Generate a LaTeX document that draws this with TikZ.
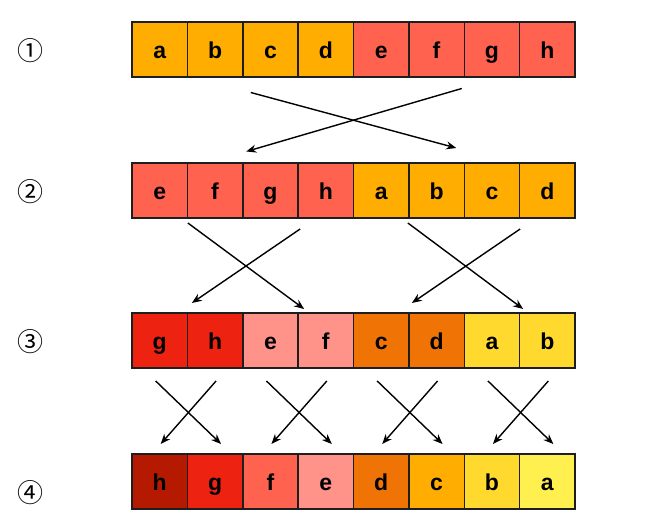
\documentclass[tikz,border=0pt]{standalone}
\usepackage{fontspec}
\setmainfont{Liberation Sans}
\newfontfamily\circfont{Noto Sans CJK JP}
\usetikzlibrary{arrows.meta,calc}

% palette
\definecolor{cOrange}{HTML}{FFAD00}
\definecolor{cSalmon}{HTML}{FF6350}
\definecolor{cRed}{HTML}{EE2210}
\definecolor{cPink}{HTML}{FF938A}
\definecolor{cDarkOr}{HTML}{F07305}
\definecolor{cYellow}{HTML}{FFD92E}
\definecolor{cLemon}{HTML}{FFF04F}
\definecolor{cMaroon}{HTML}{B51A00}
\definecolor{cEdge}{HTML}{1E1E1E}

\begin{document}
\begin{tikzpicture}[x=1pt,y=-1pt,
  cell/.style={draw=cEdge, line width=1.5pt, minimum width=55.375pt,
    minimum height=55pt, inner sep=0pt, outer sep=0pt, anchor=north west,
    text height=20pt, text depth=2.4pt,
    font=\fontsize{23}{23}\selectfont\bfseries, text=black},
  stepnum/.style={font=\circfont\fontsize{26}{26}\selectfont, inner sep=0pt},
  swap/.style={line width=1.4pt, draw=black,
    -{Stealth[length=10pt,width=8pt]}}]

\useasboundingbox (0,0) rectangle (650,529);

% step labels
\node[stepnum] (n1) at (30,50.5) {①};
\node[stepnum] (n2) at (30,191.5) {②};
\node[stepnum] (n3) at (30,341.5) {③};
\node[stepnum] (n4) at (30,493) {④};

% row 1
\foreach \t/\c [count=\i] in {a/cOrange,b/cOrange,c/cOrange,d/cOrange,
                              e/cSalmon,f/cSalmon,g/cSalmon,h/cSalmon}
  \node[cell, fill=\c] (r1-\i) at ({132+55.375*(\i-1)},22) {\t};
% row 2
\foreach \t/\c [count=\i] in {e/cSalmon,f/cSalmon,g/cSalmon,h/cSalmon,
                              a/cOrange,b/cOrange,c/cOrange,d/cOrange}
  \node[cell, fill=\c] (r2-\i) at ({132+55.375*(\i-1)},163) {\t};
% row 3
\foreach \t/\c [count=\i] in {g/cRed,h/cRed,e/cPink,f/cPink,
                              c/cDarkOr,d/cDarkOr,a/cYellow,b/cYellow}
  \node[cell, fill=\c] (r3-\i) at ({132+55.375*(\i-1)},313) {\t};
% row 4
\foreach \t/\c [count=\i] in {h/cMaroon,g/cRed,f/cSalmon,e/cPink,
                              d/cDarkOr,c/cOrange,b/cYellow,a/cLemon}
  \node[cell, fill=\c] (r4-\i) at ({132+55.375*(\i-1)},454) {\t};

% halves swap
\draw[swap] ($(r1-3.south west)+(8,15.5)$) -- ($(r2-6.north east)+(-8,-15)$);
\draw[swap] ($(r1-7.south west)+(-2.5,11.5)$) -- ($(r2-3.north west)+(3.5,-11.5)$);

% quarters swap
\draw[swap] ($(r2-1.south east)+(0.5,5)$) -- ($(r3-4.north west)+(6,-4)$);
\draw[swap] ($(r2-4.south west)+(2,11)$) -- ($(r3-2.north west)+(4.5,-10)$);
\draw[swap] ($(r2-6.south west)+(-1,5)$) -- ($(r3-8.north west)+(3.5,-4)$);
\draw[swap] ($(r2-8.south west)+(0.5,11)$) -- ($(r3-6.north west)+(3,-10)$);

% pair swaps
\foreach \a/\b in {1/2,3/4,5/6,7/8}{
  \draw[swap] ($(r3-\a.south)+(-4,13)$) -- ($(r4-\b.north)+(6,-10)$);
  \draw[swap] ($(r3-\b.south)+(1,13)$) -- ($(r4-\a.north)+(1,-10)$);
}
\end{tikzpicture}
\end{document}
